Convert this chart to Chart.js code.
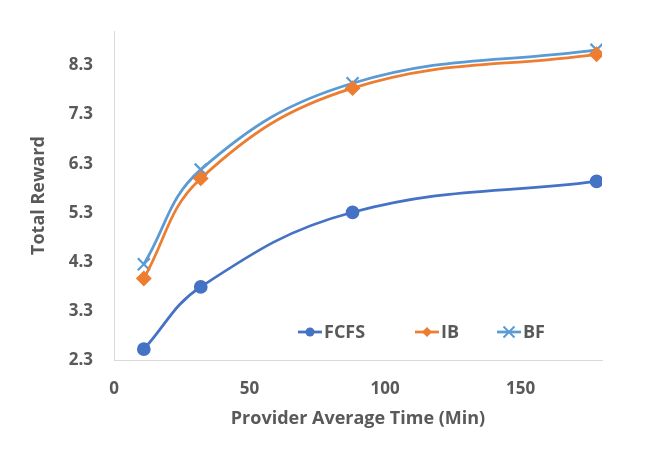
<!DOCTYPE html>
<html lang="en">
<head>
    <meta charset="UTF-8">
    <title>Total Reward vs Provider Average Time</title>
    <script src="https://cdn.jsdelivr.net/npm/chart.js"></script>
    <style>
        body {
            margin: 0;
            padding: 0;
            background-color: #fff;
        }

        .chart-container {
            width: 665px;
            height: 469px;
            position: relative;
        }
    </style>
</head>
<body>
<div class="chart-container">
    <canvas id="rewardChart"></canvas>
</div>

<script>
    // Datos
    var xValues = [11, 32, 88, 178];
    var fcfsValues = [2.52, 3.79, 5.31, 5.94];
    var ibValues = [3.96, 6.00, 7.84, 8.53];
    var bfValues = [4.25, 6.18, 7.94, 8.62];
    var yTicks = [2.3, 3.3, 4.3, 5.3, 6.3, 7.3, 8.3];
    var xTicks = [0, 50, 100, 150];

    var textColor = '#595959';
    var tickFont = { family: 'Open Sans', size: 17, weight: 'bold' };
    var titleFont = { family: 'Open Sans', size: 18, weight: 'bold' };

    function toPoints(values) {
        return values.map(function (v, i) { return { x: xValues[i], y: v }; });
    }

    // Leyenda dentro del area del grafico
    var insideLegend = {
        id: 'insideLegend',
        afterDraw: function (chart) {
            var ctx = chart.ctx;
            var items = [
                { x: 298, shape: 'circle' },
                { x: 415, shape: 'diamond' },
                { x: 497, shape: 'cross' }
            ];
            var y = 332;
            ctx.save();
            chart.data.datasets.forEach(function (ds, i) {
                var it = items[i];
                ctx.strokeStyle = ds.borderColor;
                ctx.fillStyle = ds.borderColor;
                ctx.lineWidth = 2.75;
                ctx.beginPath();
                ctx.moveTo(it.x, y);
                ctx.lineTo(it.x + 24, y);
                ctx.stroke();
                var cx = it.x + 12;
                ctx.beginPath();
                if (it.shape === 'circle') {
                    ctx.arc(cx, y, 4.5, 0, Math.PI * 2);
                    ctx.fill();
                } else if (it.shape === 'diamond') {
                    ctx.moveTo(cx, y - 5);
                    ctx.lineTo(cx + 5, y);
                    ctx.lineTo(cx, y + 5);
                    ctx.lineTo(cx - 5, y);
                    ctx.closePath();
                    ctx.fill();
                } else {
                    ctx.lineWidth = 2;
                    ctx.moveTo(cx - 5.5, y - 5.5);
                    ctx.lineTo(cx + 5.5, y + 5.5);
                    ctx.moveTo(cx + 5.5, y - 5.5);
                    ctx.lineTo(cx - 5.5, y + 5.5);
                    ctx.stroke();
                }
                ctx.fillStyle = textColor;
                ctx.font = 'bold 18px "Open Sans"';
                ctx.textBaseline = 'middle';
                ctx.textAlign = 'left';
                ctx.fillText(ds.label, it.x + 26, y + 1);
            });
            ctx.restore();
        }
    };

    var ctx = document.getElementById('rewardChart').getContext('2d');
    var rewardChart = new Chart(ctx, {
        type: 'line',
        data: {
            datasets: [{
                label: 'FCFS',
                data: toPoints(fcfsValues),
                borderColor: '#4472C4',
                backgroundColor: '#4472C4',
                borderWidth: 2.75,
                pointStyle: 'circle',
                pointRadius: 5.5,
                tension: 0.4,
                fill: false
            }, {
                label: 'IB',
                data: toPoints(ibValues),
                borderColor: '#ED7D31',
                backgroundColor: '#ED7D31',
                borderWidth: 2.75,
                pointStyle: 'rectRot',
                pointRadius: 6,
                tension: 0.4,
                fill: false
            }, {
                label: 'BF',
                data: toPoints(bfValues),
                borderColor: '#5B9BD5',
                backgroundColor: '#5B9BD5',
                borderWidth: 2.75,
                pointStyle: 'crossRot',
                pointRadius: 8.5,
                pointBorderWidth: 2.25,
                tension: 0.4,
                fill: false
            }]
        },
        options: {
            responsive: true,
            maintainAspectRatio: false,
            animation: false,
            layout: {
                padding: { top: 27, right: 63, bottom: 0, left: 0 }
            },
            plugins: {
                legend: { display: false },
                tooltip: { enabled: false }
            },
            scales: {
                x: {
                    type: 'linear',
                    position: 'bottom',
                    min: 0,
                    max: 180,
                    afterBuildTicks: function (scale) {
                        scale.ticks = xTicks.map(function (v) { return { value: v }; });
                    },
                    afterFit: function (scale) { scale.height = 109; },
                    grid: { drawOnChartArea: false, drawTicks: false },
                    border: { color: '#D9D9D9', width: 1 },
                    ticks: { color: textColor, font: tickFont, padding: 19 },
                    title: {
                        display: true,
                        text: 'Provider Average Time (Min)',
                        color: textColor,
                        font: titleFont,
                        padding: { top: 0, bottom: 39 }
                    }
                },
                y: {
                    min: 2.3,
                    max: 9.0,
                    afterBuildTicks: function (scale) {
                        scale.ticks = yTicks.map(function (v) { return { value: v }; });
                    },
                    afterFit: function (scale) { scale.width = 114; },
                    grid: { drawOnChartArea: false, drawTicks: false },
                    border: { color: '#D9D9D9', width: 1 },
                    ticks: {
                        color: textColor,
                        font: tickFont,
                        padding: 21,
                        callback: function (v) { return v.toFixed(1); }
                    },
                    title: {
                        display: true,
                        text: 'Total Reward',
                        color: textColor,
                        font: titleFont,
                        padding: { top: 28, bottom: 0 }
                    }
                }
            }
        },
        plugins: [insideLegend]
    });
</script>
</body>
</html>
